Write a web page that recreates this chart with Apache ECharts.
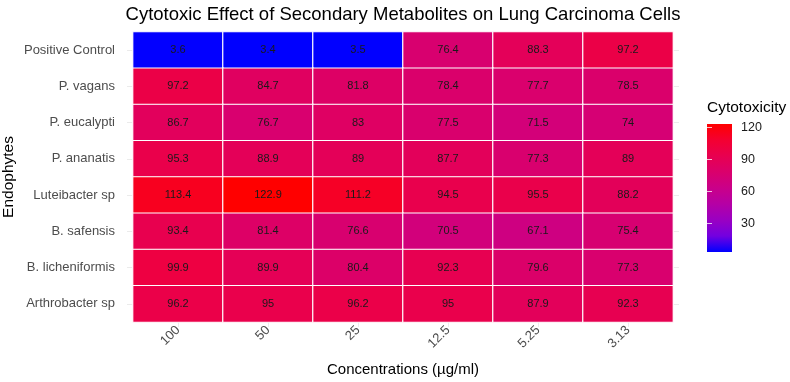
<!DOCTYPE html>
<html>
<head>
<meta charset="utf-8">
<script src="https://cdn.jsdelivr.net/npm/echarts@6/dist/echarts.min.js"></script>
<style>
  html, body { margin: 0; padding: 0; background: #fff; }
  #chart { width: 790px; height: 382px; }
</style>
</head>
<body>
<div id="chart"></div>
<script>
// data
const concentrations = ['100', '50', '25', '12.5', '5.25', '3.13'];
const endophytes = ['Positive Control', 'P. vagans', 'P. eucalypti', 'P. ananatis',
  'Luteibacter sp', 'B. safensis', 'B. licheniformis', 'Arthrobacter sp'];
const positiveControl = [3.6, 3.4, 3.5, 76.4, 88.3, 97.2];
const pVagans = [97.2, 84.7, 81.8, 78.4, 77.7, 78.5];
const pEucalypti = [86.7, 76.7, 83, 77.5, 71.5, 74];
const pAnanatis = [95.3, 88.9, 89, 87.7, 77.3, 89];
const luteibacter = [113.4, 122.9, 111.2, 94.5, 95.5, 88.2];
const bSafensis = [93.4, 81.4, 76.6, 70.5, 67.1, 75.4];
const bLicheniformis = [99.9, 89.9, 80.4, 92.3, 79.6, 77.3];
const arthrobacter = [96.2, 95, 96.2, 95, 87.9, 92.3];
const legendTicks = [30, 60, 90, 120];

const rows = [positiveControl, pVagans, pEucalypti, pAnanatis,
  luteibacter, bSafensis, bLicheniformis, arthrobacter];

// blue -> red, sampled along a Lab ramp like ggplot's gradient
const ramp = ['#0000FF', '#7300E0', '#9A00C2', '#B500A5', '#CA0089',
  '#DA006C', '#E80050', '#F40031', '#FF0000'];

const cells = [];
rows.forEach((vals, r) => vals.forEach((v, c) => cells.push([c, r, v])));
const allVals = rows.flat();
const vMin = Math.min(...allVals);
const vMax = Math.max(...allVals);

const chart = echarts.init(document.getElementById('chart'));
const font = 'Liberation Sans, Arial, sans-serif';
const gridGray = '#EBEBEB';

chart.setOption({
  backgroundColor: '#fff',
  animation: false,
  textStyle: { fontFamily: font },
  title: {
    text: 'Cytotoxic Effect of Secondary Metabolites on Lung Carcinoma Cells',
    left: 403, top: 5, textAlign: 'center', padding: 0,
    textStyle: { fontSize: 18.5, fontWeight: 'normal', color: '#000', fontFamily: font }
  },
  grid: [
    { left: 133, right: 117, top: 32, bottom: 60, outerBoundsMode: 'none' },
    { left: 707, top: 124, width: 25, height: 128, outerBoundsMode: 'none' }
  ],
  xAxis: [
    {
      type: 'category', data: concentrations, gridIndex: 0,
      axisLine: { show: false },
      axisTick: { show: true, alignWithLabel: true, length: 5, lineStyle: { color: gridGray } },
      axisLabel: { rotate: 45, color: '#4D4D4D', fontSize: 13, margin: 6 },
      splitLine: { show: false },
      name: 'Concentrations (µg/ml)', nameLocation: 'middle', nameGap: 40,
      nameMoveOverlap: false,
      nameTextStyle: { fontSize: 15, color: '#000' }
    },
    { type: 'value', gridIndex: 1, show: false, min: 0, max: 1 }
  ],
  yAxis: [
    {
      type: 'category', data: endophytes, gridIndex: 0, inverse: true,
      axisLine: { show: false },
      axisTick: { show: true, alignWithLabel: true, length: 6, lineStyle: { color: gridGray } },
      axisLabel: { color: '#4D4D4D', fontSize: 13, margin: 18 },
      splitLine: { show: false },
      name: 'Endophytes', nameLocation: 'middle', nameGap: 116, nameRotate: 90,
      nameMoveOverlap: false,
      nameTextStyle: { fontSize: 15.5, color: '#000' }
    },
    {
      type: 'category', data: endophytes, gridIndex: 0, inverse: true, position: 'right',
      axisLine: { show: false },
      axisTick: { show: true, alignWithLabel: true, length: 6, lineStyle: { color: gridGray } },
      axisLabel: { show: false }, splitLine: { show: false }
    },
    {
      type: 'value', gridIndex: 1, min: vMin, max: vMax, position: 'right', z: 5,
      axisLine: { show: false }, splitLine: { show: false },
      axisTick: { inside: true, length: 5, customValues: legendTicks,
        lineStyle: { color: 'rgba(255,255,255,0.75)', width: 1 } },
      axisLabel: { customValues: legendTicks, color: '#1A1A1A', fontSize: 12.5, margin: 9 }
    },
    {
      type: 'value', gridIndex: 1, min: vMin, max: vMax, position: 'left', z: 5,
      axisLine: { show: false }, splitLine: { show: false },
      axisTick: { inside: true, length: 5, customValues: legendTicks,
        lineStyle: { color: 'rgba(255,255,255,0.75)', width: 1 } },
      axisLabel: { show: false }
    }
  ],
  visualMap: {
    show: false, type: 'continuous', seriesIndex: 0,
    min: vMin, max: vMax, dimension: 2,
    inRange: { color: ramp }
  },
  graphic: [
    {
      type: 'text', left: 707, top: 100, z: 1,
      style: { text: 'Cytotoxicity', fill: '#000', font: '15.5px ' + font }
    },
    {
      type: 'rect', z: 1,
      shape: { x: 707, y: 124, width: 25, height: 128 },
      style: { fill: new echarts.graphic.LinearGradient(0, 1, 0, 0,
        ramp.map((c, i) => ({ offset: i / (ramp.length - 1), color: c }))) }
    }
  ],
  series: [{
    type: 'heatmap',
    xAxisIndex: 0, yAxisIndex: 0,
    data: cells,
    label: {
      show: true, color: '#1A1A1A', fontSize: 11,
      formatter: p => String(p.value[2])
    },
    itemStyle: { borderColor: '#fff', borderWidth: 1.2 },
    emphasis: { disabled: true }
  }]
});
</script>
</body>
</html>
